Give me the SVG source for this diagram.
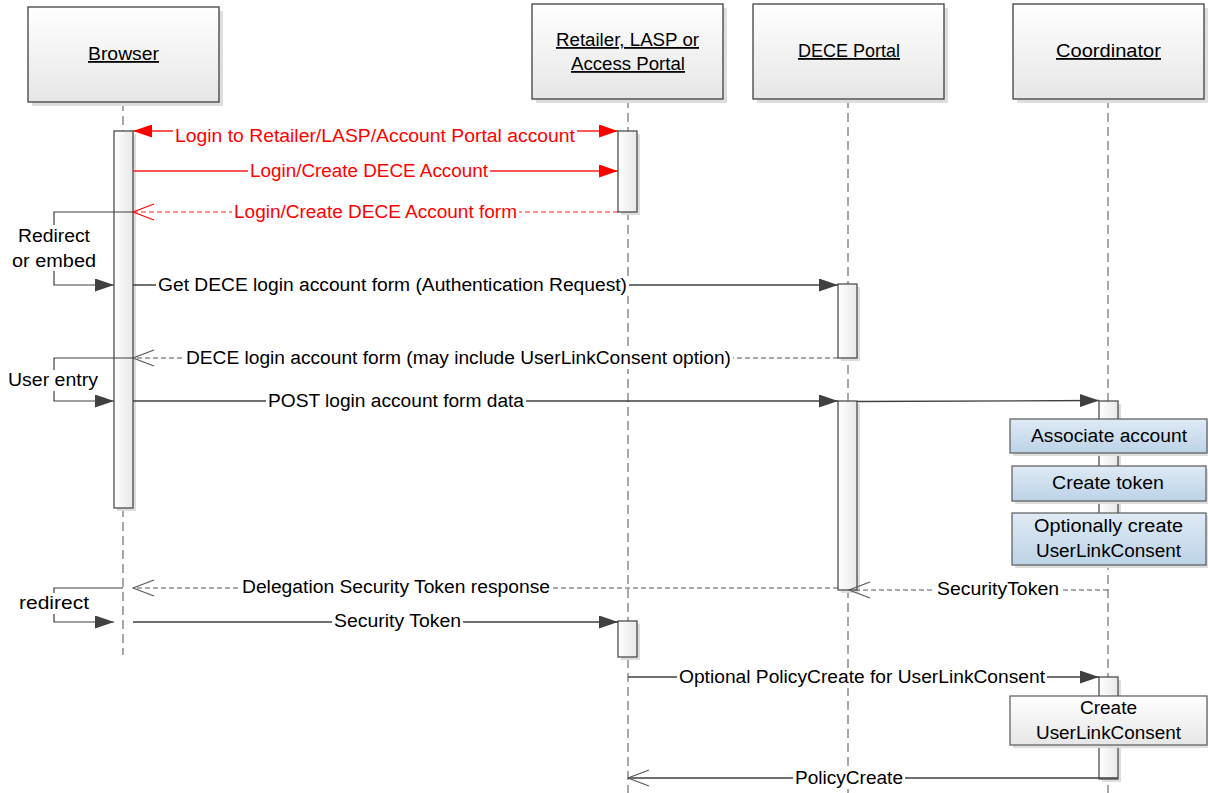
<svg xmlns="http://www.w3.org/2000/svg" width="1208" height="793" viewBox="0 0 1208 793">
<style>
text{font-family:"Liberation Sans","Noto Sans",Arial,sans-serif;font-size:18px;fill:#000;text-anchor:middle}
.red{fill:#ff0000}
.hdr{text-decoration:underline}
.life{stroke:#6f6f6f;stroke-width:1.2;stroke-dasharray:9 5;fill:none}
.msg{stroke:#404040;stroke-width:1.3;fill:none}
.ret{stroke:#595959;stroke-width:1.1;stroke-dasharray:5 3;fill:none}
.rmsg{stroke:#ff2020;stroke-width:1.3;fill:none}
.rret{stroke:#ff2020;stroke-width:1.1;stroke-dasharray:5 3;fill:none}
.self{stroke:#404040;stroke-width:1.2;fill:none}
.bg{fill:#fff}
.shadow{fill:#dedede}
.box{fill:url(#gHdr);stroke:#404040;stroke-width:1.3}
.act{fill:url(#gAct);stroke:#404040;stroke-width:1.2}
.note{fill:url(#gBlue);stroke:#595959;stroke-width:1.2}
.wnote{fill:url(#gHdr);stroke:#595959;stroke-width:1.2}
</style>
<defs>
<linearGradient id="gHdr" x1="0" y1="0" x2="0" y2="1"><stop offset="0" stop-color="#ffffff"/><stop offset="1" stop-color="#e6e6e6"/></linearGradient>
<linearGradient id="gAct" x1="0" y1="0" x2="1" y2="0"><stop offset="0" stop-color="#ffffff"/><stop offset="1" stop-color="#e8e8e8"/></linearGradient>
<linearGradient id="gBlue" x1="0" y1="0" x2="0" y2="1"><stop offset="0" stop-color="#dfeaf5"/><stop offset="1" stop-color="#bcd3e7"/></linearGradient>
<marker id="fa" viewBox="0 0 19 13" refX="19" refY="6.5" markerWidth="19" markerHeight="13" markerUnits="userSpaceOnUse" orient="auto-start-reverse"><path d="M0,0 L19,6.5 L0,13 z" fill="#404040"/></marker>
<marker id="fr" viewBox="0 0 19 13" refX="19" refY="6.5" markerWidth="19" markerHeight="13" markerUnits="userSpaceOnUse" orient="auto-start-reverse"><path d="M0,0 L19,6.5 L0,13 z" fill="#ff0000"/></marker>
<marker id="oa" viewBox="-1 -1 23 19" refX="21" refY="8" markerWidth="23" markerHeight="19" markerUnits="userSpaceOnUse" orient="auto"><path d="M0,0 L21,8 L0,16" fill="none" stroke="#595959" stroke-width="1.1"/></marker>
<marker id="or" viewBox="-1 -1 23 19" refX="21" refY="8" markerWidth="23" markerHeight="19" markerUnits="userSpaceOnUse" orient="auto"><path d="M0,0 L21,8 L0,16" fill="none" stroke="#ff0000" stroke-width="1.1"/></marker>
</defs>
<rect width="1208" height="793" fill="#fff"/>

<g id="lifelines">
<line class="life" x1="123" y1="102" x2="123" y2="655"/>
<line class="life" x1="628" y1="99" x2="628" y2="793"/>
<line class="life" x1="848" y1="99" x2="848" y2="793"/>
<line class="life" x1="1108" y1="99" x2="1108" y2="793"/>
</g>

<g id="browser">
<rect class="shadow" x="32" y="11" width="191" height="95"/>
<rect class="box" x="28" y="7" width="191" height="95"/>
<text class="hdr" x="123.5" y="60" textLength="71" lengthAdjust="spacingAndGlyphs">Browser</text>
</g>
<g id="retailer">
<rect class="shadow" x="536" y="8" width="191" height="95"/>
<rect class="box" x="532" y="4" width="191" height="95"/>
<text class="hdr" x="627.5" y="46" textLength="143" lengthAdjust="spacingAndGlyphs">Retailer, LASP or</text>
<text class="hdr" x="628" y="70" textLength="114" lengthAdjust="spacingAndGlyphs">Access Portal</text>
</g>
<g id="dece">
<rect class="shadow" x="757" y="8" width="191" height="95"/>
<rect class="box" x="753" y="4" width="191" height="95"/>
<text class="hdr" x="849" y="57" textLength="102" lengthAdjust="spacingAndGlyphs">DECE Portal</text>
</g>
<g id="coordinator">
<rect class="shadow" x="1017" y="8" width="191" height="95"/>
<rect class="box" x="1013" y="4" width="191" height="95"/>
<text class="hdr" x="1108.5" y="57" textLength="105" lengthAdjust="spacingAndGlyphs">Coordinator</text>
</g>

<g id="activations">
<rect class="shadow" x="117" y="134" width="19" height="377"/>
<rect class="act" x="114" y="131" width="19" height="377"/>
<rect class="shadow" x="621" y="134" width="19" height="81"/>
<rect class="act" x="618" y="131" width="19" height="81"/>
<rect class="shadow" x="621" y="624" width="19" height="36"/>
<rect class="act" x="618" y="621" width="19" height="36"/>
<rect class="shadow" x="841" y="287" width="19" height="74"/>
<rect class="act" x="838" y="284" width="19" height="74"/>
<rect class="shadow" x="841" y="404" width="19" height="189"/>
<rect class="act" x="838" y="401" width="19" height="189"/>
<rect class="shadow" x="1102" y="404" width="19" height="156"/>
<rect class="act" x="1099" y="401" width="19" height="156"/>
<rect class="shadow" x="1102" y="680" width="19" height="102"/>
<rect class="act" x="1099" y="677" width="19" height="102"/>
</g>

<g id="connectors">
<line class="rmsg" x1="133" y1="131" x2="618" y2="131" marker-start="url(#fr)" marker-end="url(#fr)"/>
<line class="rmsg" x1="133" y1="171" x2="618" y2="171" marker-end="url(#fr)"/>
<line class="rret" x1="618" y1="212" x2="133" y2="212" marker-end="url(#or)"/>
<polyline class="self" points="133,212 54,212 54,285 114,285" marker-end="url(#fa)"/>
<line class="msg" x1="133" y1="285" x2="838" y2="285" marker-end="url(#fa)"/>
<line class="ret" x1="838" y1="358" x2="133" y2="358" marker-end="url(#oa)"/>
<polyline class="self" points="133,358 54,358 54,401 114,401" marker-end="url(#fa)"/>
<line class="msg" x1="133" y1="401" x2="838" y2="401" marker-end="url(#fa)"/>
<line class="msg" x1="857" y1="401.5" x2="1099" y2="400.5" marker-end="url(#fa)"/>
<line class="ret" x1="1108" y1="590" x2="849" y2="590" marker-end="url(#oa)"/>
<line class="ret" x1="838" y1="588" x2="133" y2="588" marker-end="url(#oa)"/>
<polyline class="self" points="123,588 54,588 54,622 114,622" marker-end="url(#fa)"/>
<line class="msg" x1="133" y1="622" x2="618" y2="622" marker-end="url(#fa)"/>
<line class="msg" x1="628" y1="677" x2="1099" y2="677" marker-end="url(#fa)"/>
<line class="msg" x1="1118" y1="778" x2="628" y2="778" stroke="#595959" marker-end="url(#oa)"/>
</g>

<g id="labels">
<rect class="bg" x="173" y="125" width="404" height="20"/>
<text class="red" x="375" y="142" textLength="400" lengthAdjust="spacingAndGlyphs">Login to Retailer/LASP/Account Portal account</text>
<rect class="bg" x="248" y="162" width="242" height="20"/>
<text class="red" x="369" y="177" textLength="238" lengthAdjust="spacingAndGlyphs">Login/Create DECE Account</text>
<rect class="bg" x="232" y="203" width="287" height="20"/>
<text class="red" x="375.5" y="218" textLength="283" lengthAdjust="spacingAndGlyphs">Login/Create DECE Account form</text>
<rect class="bg" x="10" y="225" width="88" height="46"/>
<text x="54" y="242" textLength="72" lengthAdjust="spacingAndGlyphs">Redirect</text>
<text x="54" y="267" textLength="84" lengthAdjust="spacingAndGlyphs">or embed</text>
<rect class="bg" x="156" y="276" width="473" height="20"/>
<text x="392.5" y="291" textLength="469" lengthAdjust="spacingAndGlyphs">Get DECE login account form (Authentication Request)</text>
<rect class="bg" x="184" y="349" width="549" height="20"/>
<text x="458.5" y="364" textLength="545" lengthAdjust="spacingAndGlyphs">DECE login account form (may include UserLinkConsent option)</text>
<rect class="bg" x="6" y="370" width="94" height="21"/>
<text x="53" y="386" textLength="90" lengthAdjust="spacingAndGlyphs">User entry</text>
<rect class="bg" x="266" y="392" width="260" height="20"/>
<text x="396" y="407" textLength="256" lengthAdjust="spacingAndGlyphs">POST login account form data</text>
<rect class="bg" x="240" y="578" width="312" height="20"/>
<text x="396" y="593" textLength="308" lengthAdjust="spacingAndGlyphs">Delegation Security Token response</text>
<rect class="bg" x="935" y="580" width="126" height="20"/>
<text x="998" y="595" textLength="122" lengthAdjust="spacingAndGlyphs">SecurityToken</text>
<rect class="bg" x="17" y="593" width="74" height="21"/>
<text x="54" y="609" textLength="70" lengthAdjust="spacingAndGlyphs">redirect</text>
<rect class="bg" x="332" y="612" width="131" height="20"/>
<text x="397.5" y="627" textLength="127" lengthAdjust="spacingAndGlyphs">Security Token</text>
<rect class="bg" x="677" y="668" width="370" height="20"/>
<text x="862" y="683" textLength="366" lengthAdjust="spacingAndGlyphs">Optional PolicyCreate for UserLinkConsent</text>
<rect class="bg" x="793" y="769" width="112" height="20"/>
<text x="849" y="784" textLength="108" lengthAdjust="spacingAndGlyphs">PolicyCreate</text>
</g>

<g id="associate">
<rect class="shadow" x="1013" y="422" width="195" height="34"/>
<rect class="note" x="1010" y="419" width="197" height="34"/>
<text x="1109" y="442" textLength="156" lengthAdjust="spacingAndGlyphs">Associate account</text>
</g>
<g id="createtoken">
<rect class="shadow" x="1015" y="469" width="193" height="35"/>
<rect class="note" x="1012" y="466" width="194" height="35"/>
<text x="1108" y="489" textLength="112" lengthAdjust="spacingAndGlyphs">Create token</text>
</g>
<g id="optcreate">
<rect class="shadow" x="1015" y="516" width="193" height="52"/>
<rect class="note" x="1012" y="513" width="194" height="52"/>
<text x="1108.5" y="532" textLength="149" lengthAdjust="spacingAndGlyphs">Optionally create</text>
<text x="1108.5" y="557" textLength="145" lengthAdjust="spacingAndGlyphs">UserLinkConsent</text>
</g>
<g id="createulc">
<rect class="shadow" x="1013" y="699" width="195" height="49"/>
<rect class="wnote" x="1010" y="696" width="197" height="49"/>
<text x="1108.5" y="714" textLength="57" lengthAdjust="spacingAndGlyphs">Create</text>
<text x="1108.5" y="739" textLength="145" lengthAdjust="spacingAndGlyphs">UserLinkConsent</text>
</g>
</svg>
